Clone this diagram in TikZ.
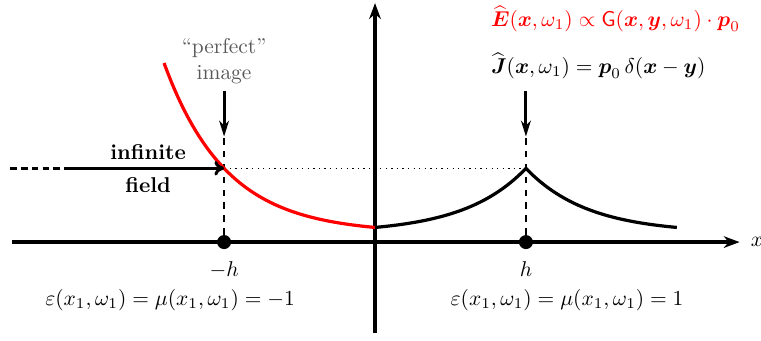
\documentclass[tikz,border=0pt]{standalone}
\usepackage{amsmath}
\usepackage{tikz}
\usetikzlibrary{arrows.meta,calc}

\begin{document}
\begin{tikzpicture}[x=1cm,y=1cm,
  font=\normalsize,
  ax/.style={line width=1.5pt,-{Stealth[length=2.6mm,width=1.9mm,inset=0.8mm]}},
  src/.style={line width=1.4pt,-{Stealth[length=2.6mm,width=1.6mm,inset=0.8mm]}},
  inf/.style={line width=1.4pt,-{To[length=1.6mm,width=2.4mm]}},
  guide/.style={dashed,line width=0.7pt},
  pt/.style={circle,fill=black,inner sep=0pt,minimum size=2.3mm},
  curve/.style={line width=1.5pt},
  lab/.style={inner sep=1pt}]
\useasboundingbox (-6.15,-1.61) rectangle (6.33,3.97);
% ---------- axes and the two points ----------
\coordinate (xl) at (-5.95,0);
\coordinate (xr) at (5.98,0);
\coordinate (yb) at (0,-1.49);
\coordinate (yt) at (0,3.92);
\draw[ax] (xl) -- (xr);
\draw[ax] (yb) -- (yt);
\node[lab,anchor=west] (xlab) at (6.12,0) {$x$};
\node[pt] (mh) at (-2.475,0) {};
\node[pt] (ph) at (2.475,0) {};
\node[lab] (mhlab) at (-2.475,-0.45) {$-h$};
\node[lab] (phlab) at (2.475,-0.45) {$h$};
% ---------- guides ----------
\coordinate (img) at (-2.475,1.21);
\coordinate (peak) at (2.475,1.21);
\coordinate (imgtip) at (-2.475,1.73);
\coordinate (srctip) at (2.475,1.73);
\draw[guide] (mh) -- (imgtip);
\draw[guide] (ph) -- (srctip);
\draw[dotted,line width=0.6pt] (img) -- (peak);
\node[lab,text=black!65,align=center] (perf) at (-2.475,2.97) {``perfect''\\image};
\draw[src] (-2.475,2.47) -- (imgtip);
\draw[src] (2.475,2.47) -- (srctip);
% ---------- fields ----------
\draw[curve] plot[domain=0:2.475,samples=50] (\x,{0.094*exp(0.98*\x)+0.146});
\draw[curve] plot[domain=2.475:4.95,samples=50] (\x,{0.094*exp(0.98*(4.95-\x))+0.146});
\draw[curve,red] plot[domain=-3.46:0,samples=60] (\x,{0.094*exp(-0.98*\x)+0.146});
% ---------- incoming field ----------
\coordinate (far) at (-5.98,1.21);
\coordinate (near) at (-5.0,1.21);
\draw[line width=1.4pt,dash pattern=on 3pt off 2pt] (far) -- (near);
\draw[inf] (near) -- (img);
\node[lab,font=\bfseries] (infa) at (-3.72,1.48) {infinite};
\node[lab,font=\bfseries] (infb) at (-3.72,0.93) {field};
% ---------- formulas ----------
\node[lab,anchor=west,text=red] (efield) at (1.86,3.66) {$\widehat{\boldsymbol{E}}(\boldsymbol{x},\omega_1)\propto\mathsf{G}(\boldsymbol{x},\boldsymbol{y},\omega_1)\cdot\boldsymbol{p}_0$};
\node[lab,anchor=west] (jsrc) at (1.86,2.89) {$\widehat{\boldsymbol{J}}(\boldsymbol{x},\omega_1)=\boldsymbol{p}_0\,\delta(\boldsymbol{x}-\boldsymbol{y})$};
\node[lab] (neg) at (-3.36,-0.95) {$\varepsilon(x_1,\omega_1)=\mu(x_1,\omega_1)=-1$};
\node[lab] (pos) at (3.15,-0.95) {$\varepsilon(x_1,\omega_1)=\mu(x_1,\omega_1)=1$};
\end{tikzpicture}
\end{document}
